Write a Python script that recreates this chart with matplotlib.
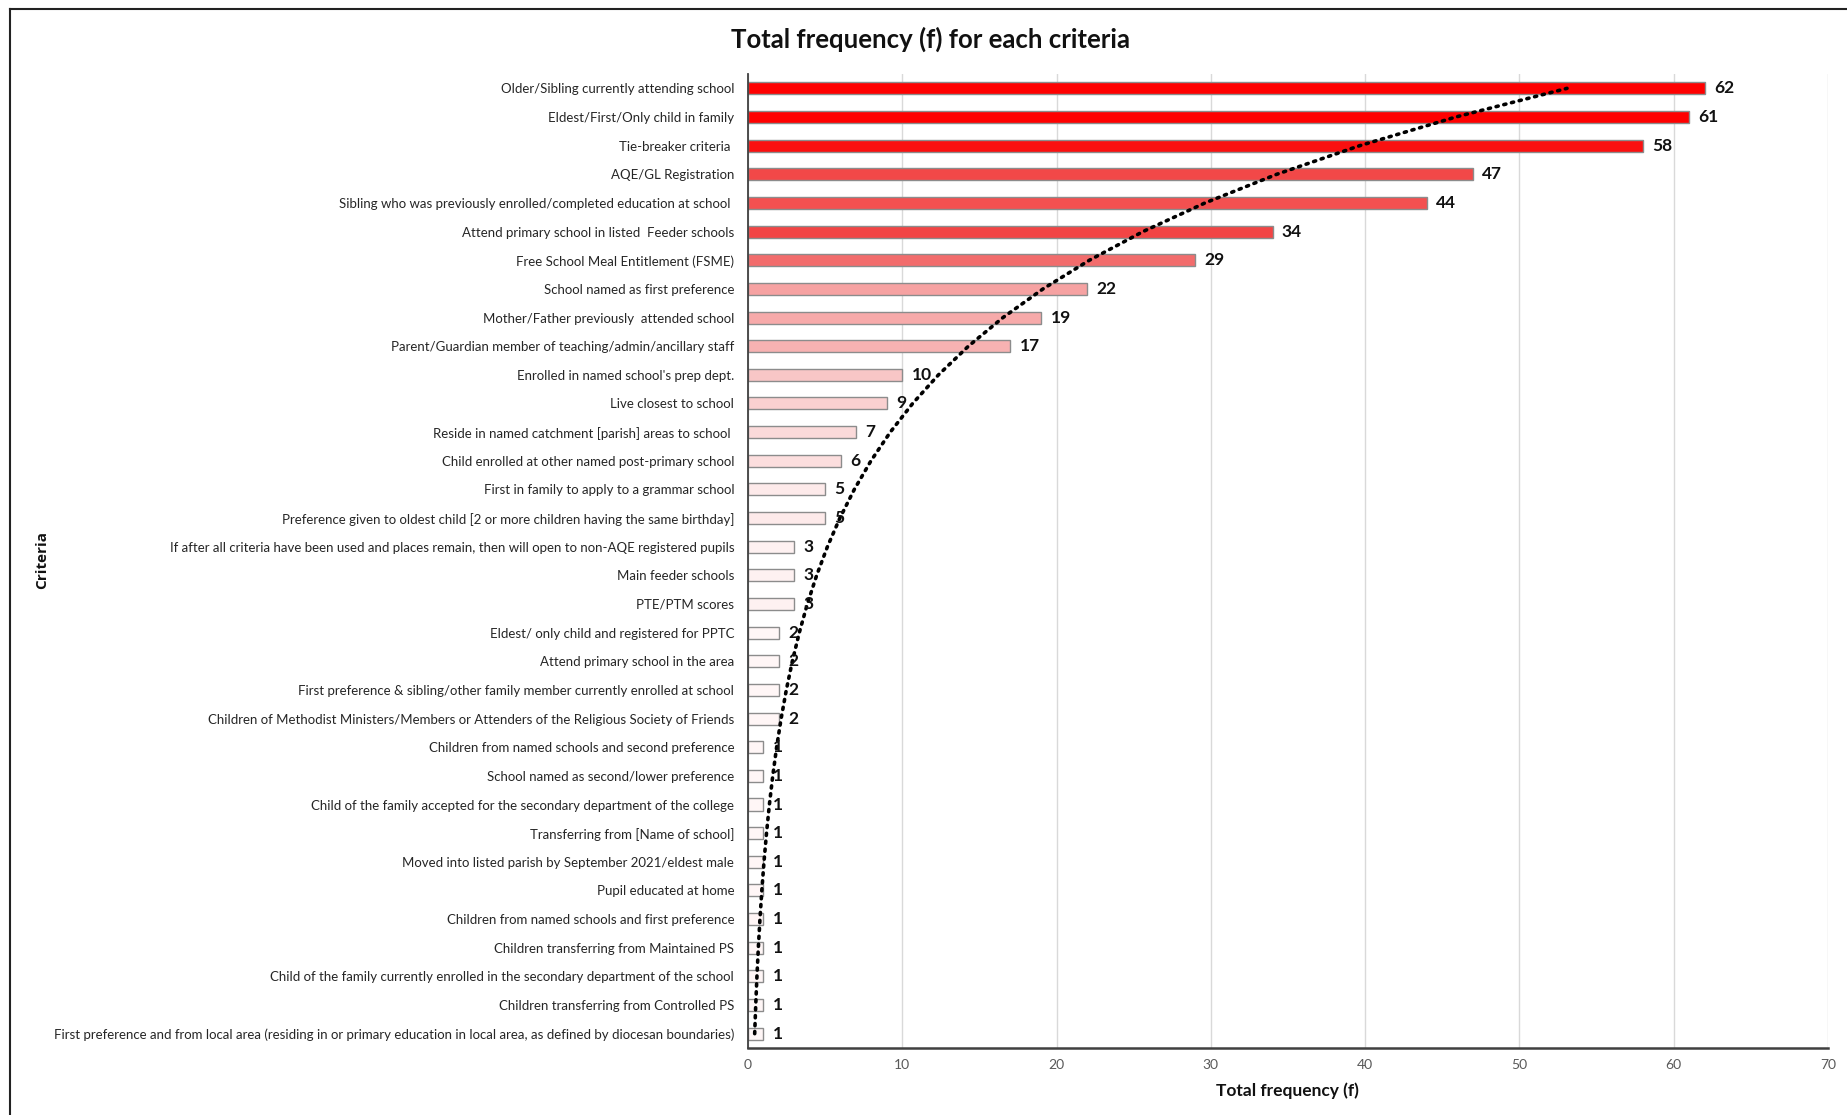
import numpy as np
import matplotlib
matplotlib.use("Agg")
import matplotlib.pyplot as plt
from matplotlib.lines import Line2D

# criteria listed from the bottom of the chart to the top
criteria = [
    "First preference and from local area (residing in or primary education in local area, as defined by diocesan boundaries)",
    "Children transferring from Controlled PS",
    "Child of the family currently enrolled in the secondary department of the school",
    "Children transferring from Maintained PS",
    "Children from named schools and first preference",
    "Pupil educated at home",
    "Moved into listed parish by September 2021/eldest male",
    "Transferring from [Name of school]",
    "Child of the family accepted for the secondary department of the college",
    "School named as second/lower preference",
    "Children from named schools and second preference",
    "Children of Methodist Ministers/Members or Attenders of the Religious Society of Friends",
    "First preference & sibling/other family member currently enrolled at school",
    "Attend primary school in the area",
    "Eldest/ only child and registered for PPTC",
    "PTE/PTM scores",
    "Main feeder schools",
    "If after all criteria have been used and places remain, then will open to non-AQE registered pupils",
    "Preference given to oldest child [2 or more children having the same birthday]",
    "First in family to apply to a grammar school",
    "Child enrolled at other named post-primary school",
    "Reside in named catchment [parish] areas to school ",
    "Live closest to school",
    "Enrolled in named school's prep dept.",
    "Parent/Guardian member of teaching/admin/ancillary staff",
    "Mother/Father previously  attended school",
    "School named as first preference",
    "Free School Meal Entitlement (FSME)",
    "Attend primary school in listed  Feeder schools",
    "Sibling who was previously enrolled/completed education at school ",
    "AQE/GL Registration",
    "Tie-breaker criteria ",
    "Eldest/First/Only child in family",
    "Older/Sibling currently attending school",
]
freq = [1, 1, 1, 1, 1, 1, 1, 1, 1, 1, 1, 2, 2, 2, 2, 3, 3, 3, 5, 5,
        6, 7, 9, 10, 17, 19, 22, 29, 34, 44, 47, 58, 61, 62]

# fill shades, light pink for the rare criteria up to full red
bar_colors = (["#FFF6F6"] * 15 + ["#FEF1F1"] * 3 + ["#FDEAEA"] * 2 +
              ["#FCDEDE", "#FBDADA", "#FAD0D0", "#F8C6C6",
               "#F7B2B2", "#F7AAAA", "#F6A2A2", "#F26C6C",
               "#F24545", "#F35050", "#F24848", "#FA1010",
               "#FF0000", "#FF0000"])

fig = plt.figure(figsize=(18.47, 11.15), dpi=100)
ax = fig.add_axes([0.405, 0.0601, 0.5847, 0.8735])

y = np.arange(len(criteria))
ax.barh(y, freq, height=0.42, color=bar_colors, edgecolor="#8C8C8C",
        linewidth=1.0, zorder=3)

# exponential trendline over category index (1 = bottom)
idx = np.arange(1, len(freq) + 1)
d, lnc = np.polyfit(idx, np.log(freq), 1)
ax.plot(np.exp(lnc + d * idx), y, color="black", linestyle=(0, (0.6, 1.6)),
        linewidth=2.6, dash_capstyle="round", zorder=5)

for yi, v in zip(y, freq):
    ax.text(v + 0.6, yi, str(v), va="center", ha="left", fontsize=12.5,
            fontweight="bold", family=["Lato", "DejaVu Sans"], color="#111111",
            zorder=6)

ax.set_xlim(0, 70)
ax.set_ylim(-0.5, len(criteria) - 0.5)
ax.set_xticks(range(0, 71, 10))
ax.set_yticks(y)
ax.set_yticklabels(criteria, family=["Lato", "DejaVu Sans"],
                   fontsize=9.5, color="#262626")
ax.tick_params(axis="y", length=0, pad=10)
ax.tick_params(axis="x", length=0, pad=8, labelsize=10, labelcolor="#595959")
for lab in ax.get_xticklabels():
    lab.set_family(["Lato", "DejaVu Sans"])

ax.grid(axis="x", color="#D9D9D9", linewidth=1.0, zorder=0)
ax.set_axisbelow(True)
ax.spines["top"].set_visible(False)
ax.spines["right"].set_visible(False)
ax.spines["left"].set_color("#404040")
ax.spines["left"].set_linewidth(1.3)
ax.spines["bottom"].set_color("#404040")
ax.spines["bottom"].set_linewidth(1.8)
ax.spines["left"].set_zorder(4)

fig.text(0.504, 0.965, "Total frequency (f) for each criteria", ha="center",
         va="center", fontsize=18.5, fontweight="bold",
         family=["Lato", "DejaVu Sans"], color="#111111")
fig.text(0.6968, 0.0215, "Total frequency (f)", ha="center", va="center",
         fontsize=12.5, fontweight="bold", family=["Lato", "DejaVu Sans"],
         color="#111111")
fig.text(0.0227, 0.498, "Criteria", ha="center", va="center", rotation=90,
         fontsize=11, fontweight="bold", family=["Open Sans", "DejaVu Sans"],
         color="#111111")

# frame around the chart (left and top edges show)
fig.add_artist(Line2D([0.0054, 0.0054], [0.0, 0.992], color="#222222",
                      linewidth=1.5, transform=fig.transFigure))
fig.add_artist(Line2D([0.0054, 1.0], [0.992, 0.992], color="#222222",
                      linewidth=1.5, transform=fig.transFigure))

fig.savefig("out.png", dpi=100, facecolor="white")
